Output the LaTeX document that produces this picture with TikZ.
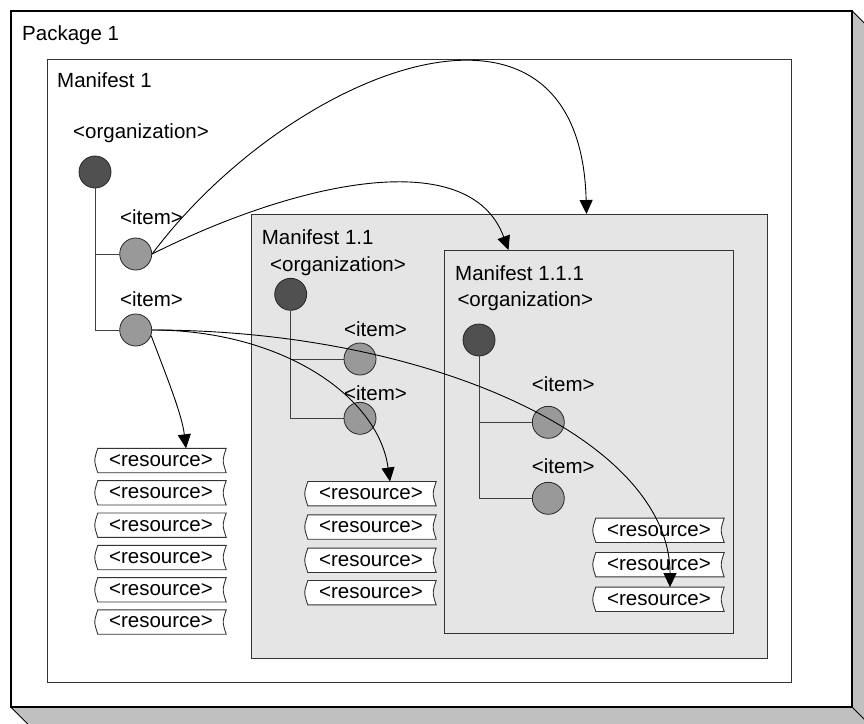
\documentclass[tikz,border=0pt]{standalone}
\usepackage{fontspec}
\setmainfont{Liberation Sans}
\usetikzlibrary{arrows.meta}
\pgfdeclarelayer{back}
\pgfdeclarelayer{mid}
\pgfsetlayers{back,mid,main}
\definecolor{shadowgray}{HTML}{C0C0C0}
\definecolor{panelgray}{HTML}{E5E5E5}
\definecolor{orgfill}{HTML}{505050}
\definecolor{itemfill}{HTML}{999999}
\definecolor{edge}{HTML}{333333}
\newcommand\labelfont{\fontsize{20.5}{24}\selectfont}
\tikzset{
  box/.style={draw=edge, line width=1pt, inner sep=0pt, anchor=north west},
  orgnode/.style={circle, minimum size=32pt, inner sep=0pt, draw=black!85, line width=0.8pt, fill=orgfill},
  itemnode/.style={circle, minimum size=32pt, inner sep=0pt, draw=black!85, line width=0.8pt, fill=itemfill},
  tree/.style={draw=black!75, line width=1pt},
  lbl/.style={anchor=base west, inner sep=0pt, font=\labelfont},
  restxt/.style={minimum width=128pt, minimum height=24pt, inner sep=0pt, font=\labelfont},
  resline/.style={draw=edge, line width=0.9pt, fill=white},
  conn/.style={draw=black, line width=0.9pt, -{Triangle[length=14pt,width=13pt]}}
}
% a <resource> entry: name, x, y
\newcommand\resentry[3]{%
  \node[restxt] (#1) at (#2,#3) {<resource>};
  \begin{pgfonlayer}{mid}
    \draw[resline] ([xshift=1pt]#1.north west) -- ([xshift=1pt]#1.north east)
      .. controls ([xshift=-3pt]#1.east) .. ([xshift=1pt]#1.south east)
      -- ([xshift=1pt]#1.south west)
      .. controls ([xshift=-3pt]#1.west) .. cycle;
  \end{pgfonlayer}}

\begin{document}
\begin{tikzpicture}[x=1pt, y=-1pt]
\useasboundingbox (0,0) rectangle (864,723);
\clip (0,0) rectangle (864,723);

\begin{pgfonlayer}{back}
  \fill[white] (0,0) rectangle (864,723);
  % package frame with its 3D edge
  \node[box, draw=black, line width=1.2pt, fill=white, minimum width=840pt, minimum height=695pt] (pkg) at (11,11) {};
  \fill[shadowgray] (pkg.north east) -- ++(40,40) -- ++(0,695) -- ++(-840,0) -- (pkg.south west) -- (pkg.south east) -- cycle;
  \draw[black, line width=0.8pt] (pkg.north east) -- ++(40,40);
  \draw[black, line width=0.8pt] (pkg.south west) -- ++(40,40);
  \draw[black, line width=0.8pt] (pkg.south east) -- ++(40,40);
  \draw[black, line width=1.2pt] (pkg.north west) rectangle (pkg.south east);
  % manifests
  \node[box, fill=white, minimum width=744pt, minimum height=623pt] (m1) at (47,59) {};
  \node[box, fill=panelgray, minimum width=516pt, minimum height=444pt] (m11) at (251,214) {};
  \node[box, fill=panelgray, minimum width=289pt, minimum height=383pt] (m111) at (444,250) {};
\end{pgfonlayer}

% titles and element labels
\node[lbl] (tpkg) at (22,40) {Package 1};
\node[lbl] (tm1) at (57,87.7) {Manifest 1};
\node[lbl] (torg1) at (73,138.3) {<organization>};
\node[lbl] (titem1) at (120,224) {<item>};
\node[lbl] (titem2) at (120,306) {<item>};
\node[lbl] (tm11) at (261.7,244) {Manifest 1.1};
\node[lbl] (torg2) at (270,271.7) {<organization>};
\node[lbl] (titem3) at (344,336.7) {<item>};
\node[lbl] (titem4) at (344,400) {<item>};
\node[lbl] (tm111) at (455,280) {Manifest 1.1.1};
\node[lbl] (torg3) at (457.3,306.7) {<organization>};
\node[lbl] (titem5) at (531.7,391.7) {<item>};
\node[lbl] (titem6) at (531.7,473.3) {<item>};

% organization trees
\coordinate (o1c) at (95,172);
\coordinate (o2c) at (290.7,294.3);
\coordinate (o3c) at (479,340);
\node[itemnode] (i1) at (135.7,254) {};
\node[itemnode] (i2) at (135.7,330) {};
\node[itemnode] (j1) at (360,359) {};
\node[itemnode] (j2) at (360,418.3) {};
\node[itemnode] (k1) at (548.3,422.3) {};
\node[itemnode] (k2) at (548.3,498.3) {};
\node[orgnode] (o1) at (o1c) {};
\node[orgnode] (o2) at (o2c) {};
\node[orgnode] (o3) at (o3c) {};
\draw[tree] (o1.south) |- (i2.west);
\draw[tree] (o1.south |- i1.west) -- (i1.west);
\draw[tree] (o2.south) |- (j2.west);
\draw[tree] (o2.south |- j1.west) -- (j1.west);
\draw[tree] (o3.south) |- (k2.west);
\draw[tree] (o3.south |- k1.west) -- (k1.west);

% resources
\resentry{r1}{161}{460.5}
\resentry{r2}{161}{492.8}
\resentry{r3}{161}{525.2}
\resentry{r4}{161}{557.5}
\resentry{r5}{161}{589.8}
\resentry{r6}{161}{622}
\resentry{q1}{371}{493.7}
\resentry{q2}{371}{527}
\resentry{q3}{371}{560.3}
\resentry{q4}{371}{592.7}
\resentry{s1}{659}{530.3}
\resentry{s2}{659}{564.7}
\resentry{s3}{659}{599.3}

% references
\draw[conn] (i1.east) .. controls (290,70) and (580,-45) .. ([xshift=77pt]m11.north);
\draw[conn] (i1.east) .. controls (300,180) and (470,145) .. ([xshift=-80.5pt]m111.north);
\draw[conn] (i2.east) .. controls (430,330) and (670,440) .. ([xshift=11pt]s3.north);
\draw[conn] (i2.east) .. controls (280,330) and (378,395) .. ([xshift=19pt]q1.north);
\draw[conn] (i2.-20) .. controls (168,380) and (182,415) .. ([xshift=25pt]r1.north);
\end{tikzpicture}
\end{document}
